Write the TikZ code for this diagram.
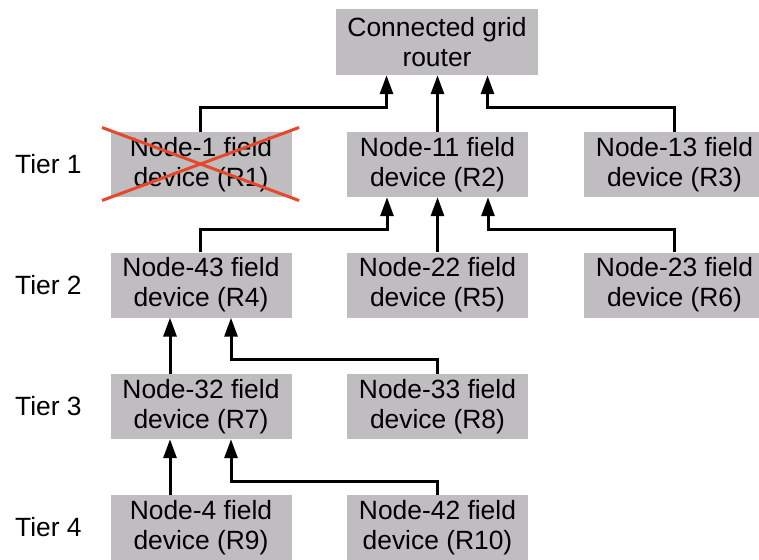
\documentclass[tikz,border=0pt]{standalone}
\usepackage{fontspec}
\setmainfont{Liberation Sans}
\usetikzlibrary{arrows.meta}
\definecolor{boxgray}{RGB}{191,189,191}
\definecolor{crossred}{RGB}{229,72,42}
\begin{document}
\begin{tikzpicture}[x=1pt,y=-1pt,
  txt/.style={font=\fontsize{26.4pt}{30pt}\selectfont},
  device/.style={txt, fill=boxgray, align=center, inner sep=0pt,
    minimum width=181pt, minimum height=65pt},
  tier/.style={txt, anchor=west, inner sep=0pt},
  conn/.style={line width=3pt, -{Triangle[length=19pt,width=13pt]}},
  cross/.style={line width=3pt, crossred}]
\useasboundingbox (0,0) rectangle (759,559);
\clip (0,0) rectangle (759,559);

% gateway
\node[device, minimum width=202pt, minimum height=66pt] (router) at (437,42) {Connected grid\\router};

% tier 1
\node[device] (r1) at (201,164.5) {Node-1 field\\device (R1)};
\node[device] (r2) at (437.5,164.5) {Node-11 field\\device (R2)};
\node[device] (r3) at (674.5,164.5) {Node-13 field\\device (R3)};
% tier 2
\node[device] (r4) at (201,285) {Node-43 field\\device (R4)};
\node[device] (r5) at (437.5,285) {Node-22 field\\device (R5)};
\node[device] (r6) at (674.5,285) {Node-23 field\\device (R6)};
% tier 3
\node[device] (r7) at (201,406.5) {Node-32 field\\device (R7)};
\node[device] (r8) at (437.5,406.5) {Node-33 field\\device (R8)};
% tier 4
\node[device] (r9) at (201,527.5) {Node-4 field\\device (R9)};
\node[device] (r10) at (437.5,527.5) {Node-42 field\\device (R10)};

% tier labels
\node[tier] (t1) at (15,164) {Tier 1};
\node[tier] (t2) at (15,285) {Tier 2};
\node[tier] (t3) at (15,406) {Tier 3};
\node[tier] (t4) at (15,527) {Tier 4};

% links to the router
\draw[conn] ([xshift=-1pt]r1.north) -- ++(0,-24) -| ([xshift=-50.5pt]router.south);
\draw[conn] (r2.north) -- (r2.north |- router.south);
\draw[conn] ([xshift=-0.5pt]r3.north) -- ++(0,-24) -| ([xshift=50.5pt]router.south);

% links to R2
\draw[conn] ([xshift=-1pt]r4.north) -- ++(0,-23) -| ([xshift=-50.5pt]r2.south);
\draw[conn] (r5.north) -- (r2.south);
\draw[conn] ([xshift=-0.5pt]r6.north) -- ++(0,-23) -| ([xshift=50.5pt]r2.south);

% links to R4
\draw[conn] ([xshift=-31pt]r7.north) -- ([xshift=-31pt]r4.south);
\draw[conn] (r8.north) -- ++(0,-14) -| ([xshift=30pt]r4.south);

% links to R7
\draw[conn] ([xshift=-31pt]r9.north) -- ([xshift=-31pt]r7.south);
\draw[conn] (r10.north) -- ++(0,-13) -| ([xshift=30pt]r7.south);

% failed device
\draw[cross] ([shift={(-99,-37)}]r1.center) -- ([shift={(98,36)}]r1.center);
\draw[cross] ([shift={(-99,36)}]r1.center) -- ([shift={(98,-37)}]r1.center);
\end{tikzpicture}
\end{document}
